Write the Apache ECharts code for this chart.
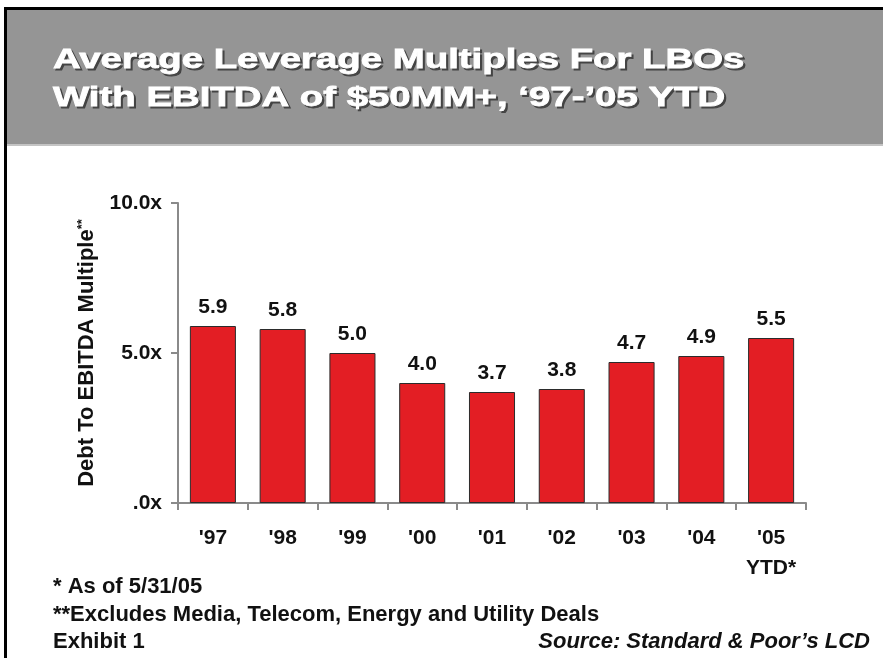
<!DOCTYPE html>
<html>
<head>
<meta charset="utf-8">
<title>Average Leverage Multiples For LBOs</title>
<script src="https://cdn.jsdelivr.net/npm/echarts@6/dist/echarts.min.js"></script>
<style>
  html, body { margin: 0; padding: 0; background: #fff; }
  #chart { width: 883px; height: 658px; }
</style>
</head>
<body>
<div id="chart"></div>
<script>
var categories = ["'97", "'98", "'99", "'00", "'01", "'02", "'03", "'04", "'05\nYTD*"]
var multiples = [5.9, 5.8, 5.0, 4.0, 3.7, 3.8, 4.7, 4.9, 5.5]
var yTicks = [0, 5, 10]
var titleLines = ['Average Leverage Multiples For LBOs', 'With EBITDA of $50MM+, \u201897-\u201905 YTD']
var notes = ['* As of 5/31/05', '**Excludes Media, Telecom, Energy and Utility Deals', 'Exhibit 1']
var source = 'Source: Standard & Poor\u2019s LCD'

var FONT = '"Liberation Sans", Arial, Helvetica, sans-serif'

var chart = echarts.init(document.getElementById('chart'))

// header band + title (title type is wide, so it gets stretched)
var graphics = [
  { type: 'rect', shape: { x: 4, y: 7, width: 879, height: 138 }, style: { fill: '#959595' }, silent: true },
  { type: 'rect', shape: { x: 4, y: 144, width: 879, height: 2 }, style: { fill: '#c4c4c4' }, silent: true },
  { type: 'rect', shape: { x: 4, y: 7, width: 879, height: 3 }, style: { fill: '#000' }, silent: true },
  { type: 'rect', shape: { x: 4, y: 7, width: 3, height: 651 }, style: { fill: '#000' }, silent: true }
]
titleLines.forEach(function (line, i) {
  var y = 60 + i * 38
  graphics.push({
    type: 'text', x: 55, y: y + 2, scaleX: 1.37, silent: true,
    style: { text: line, fill: '#444', stroke: '#444', lineWidth: 1, font: 'bold 28px ' + FONT, verticalAlign: 'middle' }
  })
  graphics.push({
    type: 'text', x: 53, y: y, scaleX: 1.37, silent: true,
    style: { text: line, fill: '#fff', stroke: '#fff', lineWidth: 0.8, font: 'bold 28px ' + FONT, verticalAlign: 'middle' }
  })
})
notes.forEach(function (note, i) {
  graphics.push({
    type: 'text', x: 53, y: 587 + i * 27.5, silent: true,
    style: { text: note, fill: '#111', font: 'bold 22px ' + FONT, verticalAlign: 'middle' }
  })
})
graphics.push({
  type: 'text', x: 870, y: 642, silent: true,
  style: { text: source, fill: '#111', font: 'italic bold 22px ' + FONT, align: 'right', verticalAlign: 'middle' }
})

chart.setOption({
  animation: false,
  backgroundColor: '#fff',
  textStyle: { fontFamily: FONT },
  graphic: graphics,
  grid: {
    left: 178,
    right: 77,
    top: 203,
    bottom: 155
  },
  xAxis: {
    type: 'category',
    data: categories,
    axisLine: { lineStyle: { color: '#8a8a8a', width: 2 } },
    axisTick: { show: true, length: 7, lineStyle: { color: '#8a8a8a', width: 2 } },
    axisLabel: {
      color: '#111', fontWeight: 'bold', fontSize: 21, lineHeight: 30, margin: 20
    }
  },
  yAxis: {
    type: 'value',
    min: yTicks[0],
    max: yTicks[yTicks.length - 1],
    interval: 5,
    name: '{a|Debt To EBITDA Multiple}{b|**}',
    nameLocation: 'middle',
    nameRotate: 90,
    nameGap: 80,
    nameTextStyle: {
      rich: {
        a: { fontSize: 22, fontWeight: 'bold', color: '#111', fontFamily: FONT },
        b: { fontSize: 13, fontWeight: 'bold', color: '#111', fontFamily: FONT, verticalAlign: 'top' }
      }
    },
    splitLine: { show: false },
    axisLine: { show: true, lineStyle: { color: '#8a8a8a', width: 2 } },
    axisTick: { show: true, length: 7, lineStyle: { color: '#8a8a8a', width: 2 } },
    axisLabel: {
      color: '#111', fontWeight: 'bold', fontSize: 21, margin: 16,
      formatter: function (v) {
        return v.toFixed(1).replace(/^0/, '') + 'x'
      }
    }
  },
  series: [
    {
      type: 'bar',
      data: multiples,
      barWidth: '66%',
      itemStyle: { color: '#e31e24', borderColor: '#2b2b2b', borderWidth: 1 },
      label: {
        show: true,
        position: 'top',
        distance: 8,
        color: '#111',
        fontWeight: 'bold',
        fontSize: 21,
        formatter: function (p) {
          return p.value.toFixed(1)
        }
      }
    }
  ]
})
</script>
</body>
</html>
